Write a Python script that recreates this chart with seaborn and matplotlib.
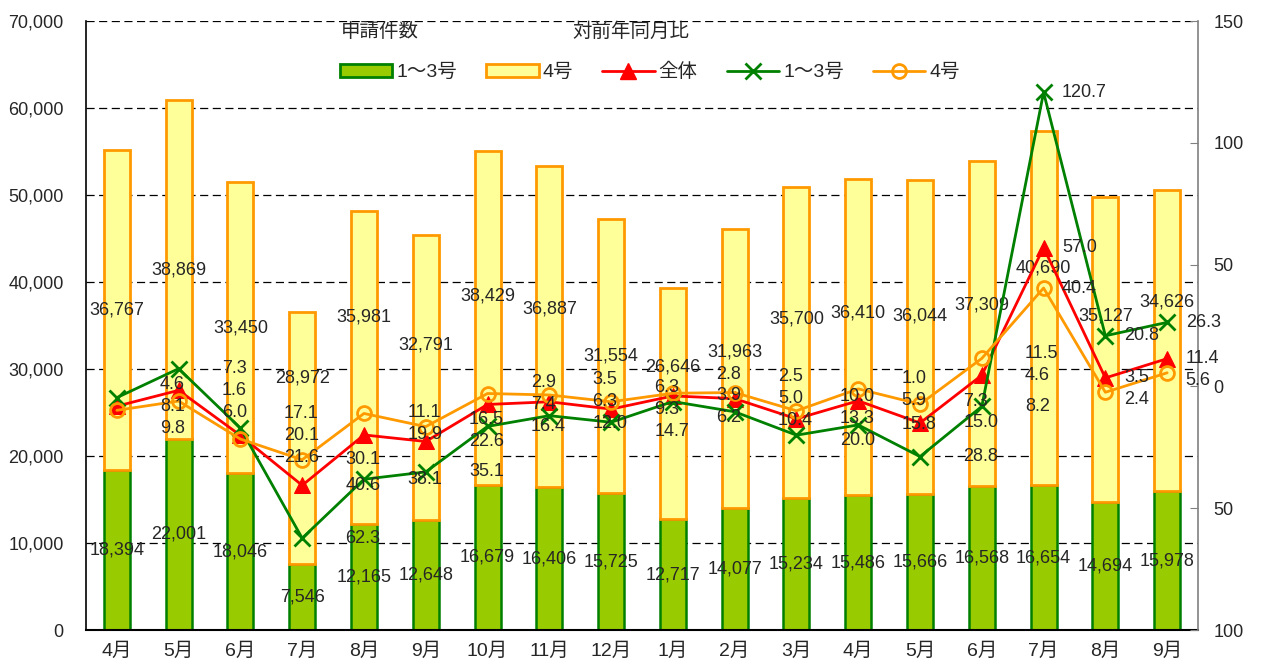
import numpy as np
import pandas as pd
import matplotlib
matplotlib.use('Agg')
import matplotlib.pyplot as plt
import seaborn as sns
from matplotlib.lines import Line2D
from matplotlib.patches import Patch
from matplotlib.ticker import FuncFormatter

# data
months = ['4月', '5月', '6月', '7月', '8月', '9月', '10月', '11月', '12月',
          '1月', '2月', '3月', '4月', '5月', '6月', '7月', '8月', '9月']
apps_13 = [18394, 22001, 18046, 7546, 12165, 12648, 16679, 16406, 15725,
           12717, 14077, 15234, 15486, 15666, 16568, 16654, 14694, 15978]
apps_4 = [36767, 38869, 33450, 28972, 35981, 32791, 38429, 36887, 31554,
          26646, 31963, 35700, 36410, 36044, 37309, 40690, 35127, 34626]
yoy_total = [-8.1, -1.6, -20.1, -40.6, -19.9, -22.6, -7.4, -6.3, -9.3,
             -3.9, -5.0, -13.3, -5.9, -15.0, 4.6, 57.0, 3.5, 11.4]
yoy_13 = [-4.6, 7.3, -17.1, -62.3, -38.1, -35.1, -16.4, -12.0, -14.7,
          -6.2, -10.4, -20.0, -15.8, -28.8, -8.2, 120.7, 20.8, 26.3]
yoy_4 = [-9.8, -6.0, -21.6, -30.1, -11.1, -16.5, -2.9, -3.5, -6.3,
         -2.8, -2.5, -10.0, -1.0, -7.3, 11.5, 40.4, -2.4, 5.6]

n = len(months)
df = pd.DataFrame({'pos': range(n), 'g13': apps_13, 'g4': apps_4,
                   'total': yoy_total, 'y13': yoy_13, 'y4': yoy_4})

sns.set_style('white')
plt.rcParams['font.family'] = ['Liberation Sans', 'Noto Sans CJK JP']
plt.rcParams['axes.unicode_minus'] = False

GREEN_FILL, GREEN_EDGE = '#99cc00', '#008000'
YELLOW_FILL, ORANGE = '#ffff99', '#ff9900'
RED = '#ff0000'
bw = 0.42
LEFT_MAX = 70000
R_MIN, R_MAX = -100, 150

def right_to_left(v):
    return (v - R_MIN) / (R_MAX - R_MIN) * LEFT_MAX

fig = plt.figure(figsize=(12.79, 6.66), dpi=100)
ax = fig.add_axes([0.0672, 0.054, 0.8695, 0.9144])

# stacked bars
sns.barplot(data=df, x='pos', y='g13', color=GREEN_FILL, edgecolor=GREEN_EDGE,
            linewidth=1.8, width=bw, saturation=1, ax=ax)
ax.bar(df['pos'], df['g4'], bottom=df['g13'], width=bw, color=YELLOW_FILL,
       edgecolor=ORANGE, linewidth=2)

# line label positions: shifted right of each point, spread apart vertically
sep = 9
line_labels = []  # (x, y_right, text)
for i in range(n):
    vals = sorted([yoy_total[i], yoy_13[i], yoy_4[i]], reverse=True)
    top, mid, bot = vals
    ypos = [max(top, mid + sep), mid, min(bot, mid - sep)]
    dx = 0.7 if i < 15 else 0.3
    for v, yp in zip(vals, ypos):
        line_labels.append((i + dx, yp, f'{abs(v):.1f}'))

# bar labels; the top one is pushed up when a line label sits on it
gap = 2300
for i in range(n):
    g13, g4 = apps_13[i], apps_4[i]
    ax.text(i, g13 / 2, f'{g13:,}', ha='center', va='center', fontsize=13)
    ty = max(g13 + g4 / 2, g4)
    near = [right_to_left(yp) for lx, yp, _ in line_labels
            if lx < i + 0.45 and lx + 0.5 > i - 0.45]
    moved = True
    while moved:
        moved = False
        for ly in near:
            if abs(ty - ly) < gap:
                ty = ly + gap
                moved = True
    ax.text(i, ty, f'{g4:,}', ha='center', va='center', fontsize=13)

ax.set_xlim(-0.5, n - 0.5)
ax.set_ylim(0, LEFT_MAX)
ax.set_yticks(range(0, LEFT_MAX + 1, 10000))
ax.yaxis.set_major_formatter(FuncFormatter(lambda v, p: f'{int(v):,}'))
ax.set_xticks(range(n))
ax.set_xticklabels(months, fontsize=14)
ax.set_xticks(np.arange(-0.5, n, 1), minor=True)
ax.tick_params(axis='x', which='major', length=0, pad=9)
ax.tick_params(axis='x', which='minor', direction='in', length=6, width=1, color='black')
ax.tick_params(axis='y', length=0, pad=16, labelsize=13)
ax.set_xlabel('')
ax.set_ylabel('')
ax.set_axisbelow(True)
ax.yaxis.grid(True, linestyle=(0, (6.5, 3.6)), color='black', linewidth=0.9)
ax.spines['top'].set_visible(False)
ax.spines['right'].set_visible(False)
ax.spines['left'].set_color('black')
ax.spines['left'].set_linewidth(1.2)
ax.spines['bottom'].set_color('black')
ax.spines['bottom'].set_linewidth(1.5)

# year-on-year lines on the secondary axis
ax2 = ax.twinx()
sns.lineplot(data=df, x='pos', y='total', color=RED, marker='^', markersize=11,
             markeredgecolor=RED, markerfacecolor=RED, linewidth=2, ax=ax2)
sns.lineplot(data=df, x='pos', y='y13', color=GREEN_EDGE, marker='x', markersize=12,
             markeredgecolor=GREEN_EDGE, markeredgewidth=2, linewidth=2, ax=ax2)
sns.lineplot(data=df, x='pos', y='y4', color=ORANGE, marker='o', markersize=10,
             markerfacecolor='none', markeredgecolor=ORANGE, markeredgewidth=2,
             linewidth=2, ax=ax2)

for lx, ly, txt in line_labels:
    ax2.text(lx, ly, txt, ha='left', va='center', fontsize=13)

ax2.set_xlim(-0.5, n - 0.5)
ax2.set_ylim(R_MIN, R_MAX)
ax2.set_yticks(range(R_MIN, R_MAX + 1, 50))
ax2.yaxis.set_major_formatter(FuncFormatter(lambda v, p: f'{abs(int(v))}'))
ax2.tick_params(axis='y', direction='in', length=6, pad=11, labelsize=13, color='#808080')
ax2.set_xlabel('')
ax2.set_ylabel('')
for s in ['top', 'left', 'bottom']:
    ax2.spines[s].set_visible(False)
ax2.spines['right'].set_color('#808080')
ax2.spines['right'].set_linewidth(1.2)

handles = [
    Patch(facecolor=GREEN_FILL, edgecolor=GREEN_EDGE, linewidth=2),
    Patch(facecolor=YELLOW_FILL, edgecolor=ORANGE, linewidth=2),
    Line2D([], [], color=RED, marker='^', markersize=11, linewidth=2),
    Line2D([], [], color=GREEN_EDGE, marker='x', markersize=12, markeredgewidth=2, linewidth=2),
    Line2D([], [], color=ORANGE, marker='o', markersize=10, markerfacecolor='none',
           markeredgewidth=2, linewidth=2),
]
labels = ['1～3号', '4号', '全体', '1～3号', '4号']
ax2.legend(handles, labels, ncol=5, loc='center', bbox_to_anchor=(0.507, 0.916),
           frameon=False, fontsize=14, handlelength=2.7, handletextpad=0.2,
           columnspacing=1.5)
ax2.text(0.264, 0.982, '申請件数', transform=ax2.transAxes, ha='center', va='center', fontsize=14)
ax2.text(0.49, 0.982, '対前年同月比', transform=ax2.transAxes, ha='center', va='center', fontsize=14)

fig.savefig('out.png', dpi=100)
